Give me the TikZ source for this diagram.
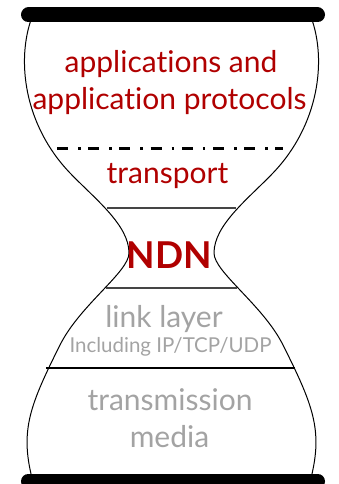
\documentclass[tikz,border=0pt]{standalone}
\usepackage{fontspec}
\setmainfont{Lato}[Ligatures=NoCommon]
\definecolor{ndnred}{HTML}{B00000}
\definecolor{lowgray}{HTML}{A3A3A3}
\definecolor{divgray}{HTML}{454545}
\tikzset{
  bar/.style={line width=15pt, line cap=round, black},
  outline/.style={line width=1pt, black},
  divider/.style={line width=1.3pt, divgray},
  solidsep/.style={line width=2.2pt, black},
  dashdot/.style={line width=3pt, black, dash pattern=on 11pt off 10pt on 2.5pt off 7.7pt},
  toptext/.style={anchor=base, inner sep=0pt, text=ndnred, font=\fontsize{30}{30}\selectfont},
  ndntext/.style={anchor=base, inner sep=0pt, text=ndnred, font=\fontsize{37}{37}\selectfont\bfseries},
  lowtext/.style={anchor=base, inner sep=0pt, text=lowgray, font=\fontsize{30}{30}\selectfont},
  smalltext/.style={anchor=base, inner sep=0pt, text=lowgray, font=\fontsize{20.5}{20.5}\selectfont},
}
\newcommand{\hourside}{%
  (32,17) .. controls (16,60) and (24,125) .. (70,173)
  .. controls (95,199) and (129,225) .. (129,253)
  .. controls (129,272) and (80,305) .. (60,345)
  .. controls (30,405) and (20,430) .. (32,478)}
\begin{document}
\begin{tikzpicture}[x=1pt,y=-1pt]
\useasboundingbox (0,0) rectangle (339,484);
% outline
\draw[outline] \hourside;
\begin{scope}[xshift=343pt, xscale=-1]
\draw[outline] \hourside;
\end{scope}
% bars
\coordinate (tl) at (28.5,15);
\coordinate (tr) at (317.5,15);
\coordinate (bl) at (28.5,481);
\coordinate (br) at (317.5,481);
\draw[bar] (tl) -- (tr);
\draw[bar] (bl) -- (br);
% separators
\coordinate (d1) at (57,148);
\coordinate (d2) at (283,148);
\draw[dashdot] (d1) -- (d2);
\coordinate (n1) at (107,208);
\coordinate (n2) at (236,208);
\draw[divider] (n1) -- (n2);
\coordinate (m1) at (106,288);
\coordinate (m2) at (237,288);
\draw[divider] (m1) -- (m2);
\coordinate (s1) at (46,368);
\coordinate (s2) at (295,368);
\draw[solidsep] (s1) -- (s2);
% texts
\node[toptext] (app1) at (171,73) {applications and};
\node[toptext] (app2) at (169.5,110) {application protocols};
\node[toptext] (trans) at (167.5,183) {transport};
\node[ndntext] (ndn) at (169.5,268) {NDN};
\node[lowtext] (link) at (164,327) {link layer};
\node[smalltext] (incl) at (170.5,352) {Including IP/TCP/UDP};
\node[lowtext] (tx) at (170,410) {transmission};
\node[lowtext] (media) at (169.5,447) {media};
\end{tikzpicture}
\end{document}
